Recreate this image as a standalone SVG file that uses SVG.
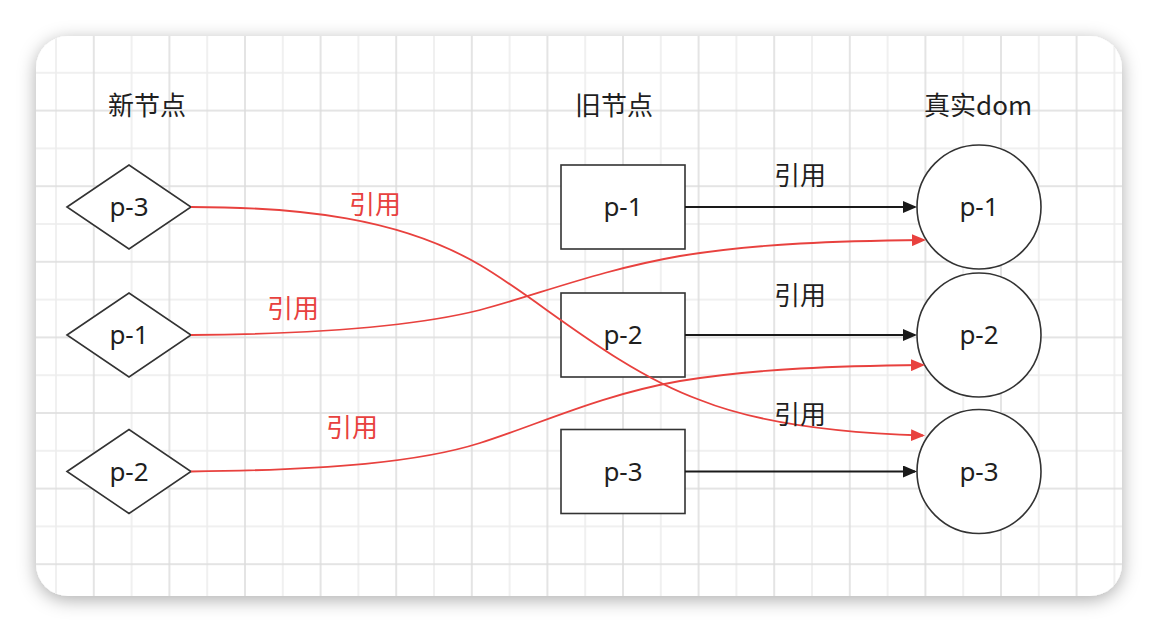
<svg xmlns="http://www.w3.org/2000/svg" width="1158" height="632" viewBox="0 0 1158 632">
  <defs>
    <filter id="shadow" x="-10%" y="-15%" width="120%" height="130%">
      <feDropShadow dx="0" dy="4" stdDeviation="9" flood-color="#000" flood-opacity="0.32"/>
    </filter>
    <pattern id="grid" patternUnits="userSpaceOnUse" x="37.1" y="53.9" width="75.6" height="75.6">
      <path d="M18.9,0 V75.6 M0,18.9 H75.6" stroke="#ececec" stroke-width="1.5" fill="none"/>
      <path d="M56.7,0 V75.6 M0,56.7 H75.6" stroke="#dcdcdc" stroke-width="1.5" fill="none"/>
    </pattern>
    <marker id="arrowBlack" markerUnits="userSpaceOnUse" markerWidth="14" markerHeight="12" refX="12" refY="6" orient="auto">
      <path d="M0,0 L14,6 L0,12 z" fill="#1a1a1a"/>
    </marker>
    <marker id="arrowRed" markerUnits="userSpaceOnUse" markerWidth="14" markerHeight="12" refX="12" refY="6" orient="auto">
      <path d="M0,0 L14,6 L0,12 z" fill="#e8413e"/>
    </marker>
  </defs>
  <style>
    .node { fill: #ffffff; stroke: #333333; stroke-width: 1.6; }
    .lbl { font-family: "Noto Sans", "Noto Sans CJK SC", sans-serif; font-size: 26px; fill: #1f1f1f; text-anchor: middle; }
    .cjk { font-family: "Noto Sans CJK SC", "Noto Sans", sans-serif; font-size: 26px; fill: #1f1f1f; text-anchor: middle; }
    .red { fill: #e8413e; }
    .blackEdge { fill: none; stroke: #1a1a1a; stroke-width: 1.8; marker-end: url(#arrowBlack); }
    .redEdge { fill: none; stroke: #e8413e; stroke-width: 1.8; marker-end: url(#arrowRed); }
  </style>

  <rect width="1158" height="632" fill="#ffffff"/>
  <g id="panel">
    <rect x="36" y="36" width="1086" height="560" rx="32" ry="32" fill="#ffffff" filter="url(#shadow)"/>
    <rect x="36" y="36" width="1086" height="560" rx="32" ry="32" fill="url(#grid)"/>
  </g>

  <g id="headers">
    <text class="cjk" x="147" y="115">新节点</text>
    <text class="cjk" x="614" y="115">旧节点</text>
    <text class="cjk" x="978" y="115">真实dom</text>
  </g>

  <g id="new-p3">
    <polygon class="node" points="67,207 129,165 191,207 129,249"/>
    <text class="lbl" x="129" y="216">p-3</text>
  </g>
  <g id="new-p1">
    <polygon class="node" points="67,335 129,293 191,335 129,377"/>
    <text class="lbl" x="129" y="344">p-1</text>
  </g>
  <g id="new-p2">
    <polygon class="node" points="67,471.5 129,429.5 191,471.5 129,513.5"/>
    <text class="lbl" x="129" y="480.5">p-2</text>
  </g>

  <g id="old-p1">
    <rect class="node" x="561" y="165" width="124" height="84"/>
    <text class="lbl" x="623" y="216">p-1</text>
  </g>
  <g id="old-p2">
    <rect class="node" x="561" y="293" width="124" height="84"/>
    <text class="lbl" x="623" y="344">p-2</text>
  </g>
  <g id="old-p3">
    <rect class="node" x="561" y="429.5" width="124" height="84"/>
    <text class="lbl" x="623" y="480.5">p-3</text>
  </g>

  <g id="dom-p1">
    <circle class="node" cx="979" cy="207" r="62"/>
    <text class="lbl" x="979" y="216">p-1</text>
  </g>
  <g id="dom-p2">
    <circle class="node" cx="979" cy="335" r="62"/>
    <text class="lbl" x="979" y="344">p-2</text>
  </g>
  <g id="dom-p3">
    <circle class="node" cx="979" cy="471.5" r="62"/>
    <text class="lbl" x="979" y="480.5">p-3</text>
  </g>

  <g id="connectors">
    <path class="blackEdge" d="M685,207 H915"/>
    <path class="blackEdge" d="M685,335 H915"/>
    <path class="blackEdge" d="M685,471.5 H915"/>
    <path class="redEdge" d="M191,207 C300,207 400,218 480,265 C540,300 615,369 700,400 C760,424 840,433 923,435.5"/>
    <path class="redEdge" d="M191,335 C330,334 420,325 480,310 C540,294 600,270 680,256 C760,243 840,241 924,240"/>
    <path class="redEdge" d="M191,471.5 C330,470 420,462 480,443 C540,424 600,395 680,381 C760,368 840,366 923,365"/>
  </g>

  <g id="edge-labels">
    <text class="cjk" x="800" y="185">引用</text>
    <text class="cjk" x="800" y="305">引用</text>
    <text class="cjk" x="800" y="424">引用</text>
    <text class="cjk red" x="375" y="214">引用</text>
    <text class="cjk red" x="293" y="318">引用</text>
    <text class="cjk red" x="352" y="437">引用</text>
  </g>
</svg>
